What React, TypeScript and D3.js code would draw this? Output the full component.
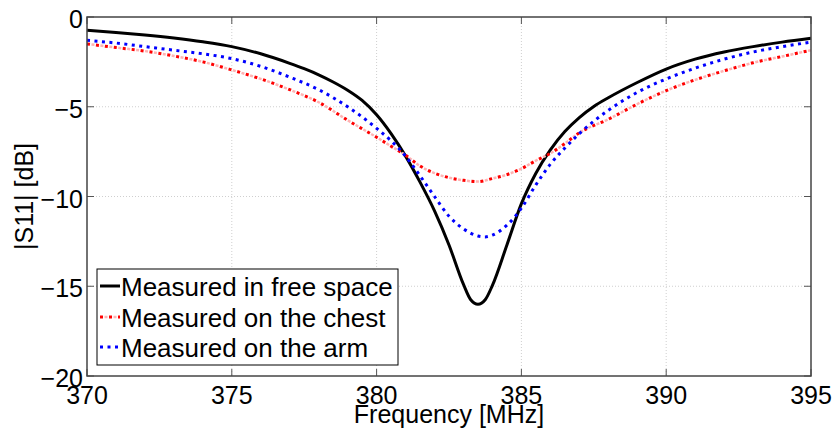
import React from "react";
import * as d3 from "d3";

const freqFree = [370, 371, 372, 373, 374, 375, 376, 377, 377.5, 378, 378.5, 379, 379.5, 380, 380.5, 381, 381.5, 382, 382.5, 383, 383.25, 383.5, 383.75, 384, 384.5, 385, 385.5, 386, 386.5, 387, 387.5, 388, 389, 390, 391, 392, 393, 394, 395];
const valFree = [-0.74, -0.86, -1.0, -1.17, -1.38, -1.65, -2.05, -2.58, -2.88, -3.22, -3.62, -4.08, -4.65, -5.45, -6.5, -7.75, -9.2, -10.8, -12.7, -14.9, -15.75, -16.0, -15.75, -14.95, -12.7, -10.4, -8.7, -7.4, -6.38, -5.6, -4.98, -4.5, -3.65, -2.9, -2.35, -1.95, -1.65, -1.4, -1.19];

const freqChest = [370, 371, 372, 373, 374, 375, 376, 377, 378, 379, 380, 380.5, 381, 381.5, 382, 382.5, 383, 383.5, 384, 384.5, 385, 385.5, 386, 386.5, 387, 388, 389, 390, 391, 392, 393, 394, 395];
const valChest = [-1.5, -1.7, -1.9, -2.17, -2.5, -2.95, -3.45, -4.05, -4.75, -5.75, -6.7, -7.2, -7.7, -8.3, -8.7, -8.95, -9.1, -9.17, -9.0, -8.78, -8.45, -8.0, -7.6, -7.05, -6.45, -5.7, -4.85, -4.1, -3.5, -3.0, -2.55, -2.2, -1.85];

const freqArm = [370, 371, 372, 373, 374, 375, 376, 377, 378, 379, 380, 380.5, 381, 381.5, 382, 382.5, 383, 383.5, 383.75, 384, 384.5, 385, 385.5, 386, 386.5, 387, 388, 389, 390, 391, 392, 393, 394, 395];
const valArm = [-1.3, -1.45, -1.65, -1.85, -2.05, -2.32, -2.75, -3.35, -4.05, -5.0, -6.2, -6.9, -7.75, -8.85, -10.0, -11.1, -11.8, -12.2, -12.25, -12.15, -11.6, -10.65, -9.35, -8.2, -7.3, -6.5, -5.2, -4.2, -3.45, -2.85, -2.35, -1.95, -1.65, -1.4];

const xTicks = [370, 375, 380, 385, 390, 395];
const yTicks = [0, -5, -10, -15, -20];
const legendLabels = ["Measured in free space", "Measured on the chest", "Measured on the arm"];
const xLabel = "Frequency [MHz]";
const yLabel = "|S11| [dB]";

const FONT = "'Liberation Sans', Arial, Helvetica, sans-serif";

export default function App() {
  const W = 835, H = 431;
  const L = 87, T = 17, R = 811, B = 376;
  const x = d3.scaleLinear().domain([370, 395]).range([L, R]);
  const y = d3.scaleLinear().domain([-20, 0]).range([B, T]);
  const line = d3
    .line<[number, number]>()
    .x((d) => x(d[0]))
    .y((d) => y(d[1]))
    .curve(d3.curveMonotoneX);
  const zip = (f: number[], v: number[]) => f.map((ff, i) => [ff, v[i]] as [number, number]);
  const pFree = line(zip(freqFree, valFree)) || "";
  const pChest = line(zip(freqChest, valChest)) || "";
  const pArm = line(zip(freqArm, valArm)) || "";

  const legX = 97, legY = 269, legW = 301, legH = 96;
  const rows = [286, 317, 347];
  const sampleX1 = 100, sampleX2 = 120;

  const fmt = (v: number) => (v < 0 ? "\u2212" + Math.abs(v) : String(v));

  return (
    <svg
      width={W}
      height={H}
      style={{ position: "absolute", left: 0, top: 0, background: "#fff" }}
      fontFamily={FONT}
    >
      <rect x={0} y={0} width={W} height={H} fill="#fff" />
      {/* grid */}
      {xTicks.slice(1, -1).map((t) => (
        <line key={"gx" + t} x1={x(t)} x2={x(t)} y1={T} y2={B} stroke="#cfcfcf" strokeWidth={1} strokeDasharray="1,2" />
      ))}
      {yTicks.slice(1, -1).map((t) => (
        <line key={"gy" + t} x1={L} x2={R} y1={y(t)} y2={y(t)} stroke="#cfcfcf" strokeWidth={1} strokeDasharray="1,2" />
      ))}
      {/* ticks */}
      {xTicks.map((t) => (
        <g key={"tx" + t}>
          <line x1={x(t)} x2={x(t)} y1={B} y2={B - 7} stroke="#555" strokeWidth={1} />
          <line x1={x(t)} x2={x(t)} y1={T} y2={T + 7} stroke="#555" strokeWidth={1} />
        </g>
      ))}
      {yTicks.map((t) => (
        <g key={"ty" + t}>
          <line x1={L} x2={L + 7} y1={y(t)} y2={y(t)} stroke="#555" strokeWidth={1} />
          <line x1={R} x2={R - 7} y1={y(t)} y2={y(t)} stroke="#555" strokeWidth={1} />
        </g>
      ))}
      {/* curves */}
      <path d={pFree} fill="none" stroke="#000" strokeWidth={3} />
      <path d={pChest} fill="none" stroke="#ffb3b3" strokeWidth={2.5} strokeDasharray="0,4.5,3,1.5" />
      <path d={pChest} fill="none" stroke="#ff0000" strokeWidth={3} strokeDasharray="3,6" />
      <path d={pArm} fill="none" stroke="#0000ff" strokeWidth={3} strokeDasharray="3,4.5" />
      {/* axes box */}
      <rect x={L} y={T} width={R - L} height={B - T} fill="none" stroke="#444" strokeWidth={1.5} />
      {/* tick labels */}
      {xTicks.map((t) => (
        <text key={"lx" + t} x={x(t)} y={404} textAnchor="middle" fontSize={25} fill="#000">
          {t}
        </text>
      ))}
      {yTicks.map((t) => (
        <text key={"ly" + t} x={83} y={y(t) + 11} textAnchor="end" fontSize={25} fill="#000">
          {fmt(t)}
        </text>
      ))}
      {/* axis labels */}
      <text x={(L + R) / 2} y={423} textAnchor="middle" fontSize={25} fill="#000">
        {xLabel}
      </text>
      <text transform={`translate(33,${(T + B) / 2}) rotate(-90)`} textAnchor="middle" fontSize={25} fill="#000">
        {yLabel}
      </text>
      {/* legend */}
      <rect x={legX} y={legY} width={legW} height={legH} fill="#fff" stroke="#000" strokeWidth={1} />
      <line x1={sampleX1} x2={sampleX2} y1={rows[0]} y2={rows[0]} stroke="#000" strokeWidth={3} />
      <line x1={sampleX1} x2={sampleX2} y1={rows[1]} y2={rows[1]} stroke="#ffb3b3" strokeWidth={2.5} strokeDasharray="0,4.5,3,1.5" />
      <line x1={sampleX1} x2={sampleX2} y1={rows[1]} y2={rows[1]} stroke="#ff0000" strokeWidth={3} strokeDasharray="3,6" />
      <line x1={sampleX1} x2={sampleX2} y1={rows[2]} y2={rows[2]} stroke="#0000ff" strokeWidth={3} strokeDasharray="3,4.5" />
      {legendLabels.map((lab, i) => (
        <text key={lab} x={121} y={rows[i] + 10} fontSize={26} fill="#000">
          {lab}
        </text>
      ))}
    </svg>
  );
}
